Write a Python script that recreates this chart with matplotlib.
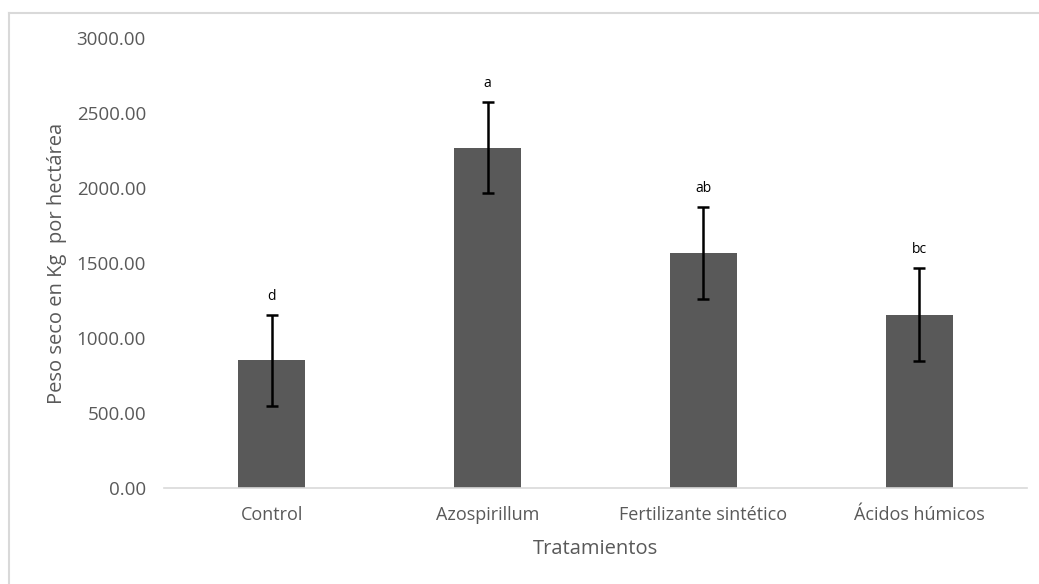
import numpy as np
import matplotlib
matplotlib.use('Agg')
import matplotlib.pyplot as plt
from matplotlib.lines import Line2D

tratamientos = ['Control', 'Azospirillum', 'Fertilizante sintético', 'Ácidos húmicos']
peso_seco = [850, 2270, 1567, 1155]
error = [305, 305, 305, 310]
letras = ['d', 'a', 'ab', 'bc']

plt.rcParams['font.family'] = ['Open Sans', 'DejaVu Sans']
gris = '#595959'

fig = plt.figure(figsize=(10.39, 5.84), dpi=100)
ax = fig.add_axes([0.1578, 0.1644, 0.9885 - 0.1578, 0.9349 - 0.1644])

x = np.arange(len(tratamientos))
ax.bar(x, peso_seco, width=0.31, color=gris, zorder=2)
ax.errorbar(x, peso_seco, yerr=error, fmt='none', ecolor='black',
            elinewidth=1.8, capsize=4, capthick=1.8, zorder=3)

for xi, v, e, l in zip(x, peso_seco, error, letras):
    ax.text(xi, v + e + 125, l, ha='center', va='center', fontsize=10, color='black')

ax.set_xlim(-0.5, len(tratamientos) - 0.5)
ax.set_ylim(0, 3000)
ax.set_yticks(np.arange(0, 3001, 500))
ax.set_yticklabels(['%.2f' % t for t in np.arange(0, 3001, 500)])
ax.set_xticks(x)
ax.set_xticklabels(tratamientos)

for s in ['top', 'right', 'left']:
    ax.spines[s].set_visible(False)
ax.spines['bottom'].set_color('#d9d9d9')
ax.spines['bottom'].set_linewidth(1.2)
ax.tick_params(axis='y', length=0, colors=gris, labelsize=13.5, pad=13)
ax.tick_params(axis='x', length=0, colors=gris, labelsize=13, pad=13)

ax.set_ylabel('Peso seco en Kg  por hectárea', fontsize=14.5, color=gris, labelpad=7)
ax.set_xlabel('Tratamientos', fontsize=14.5, color=gris, labelpad=11)

# borde del grafico (solo izquierda y arriba visibles)
fig.add_artist(Line2D([9 / 1039, 9 / 1039], [0, 1 - 13 / 584], color='#d9d9d9', lw=1.5))
fig.add_artist(Line2D([9 / 1039, 1], [1 - 13 / 584, 1 - 13 / 584], color='#d9d9d9', lw=1.5))

fig.savefig('out.png', dpi=100)
